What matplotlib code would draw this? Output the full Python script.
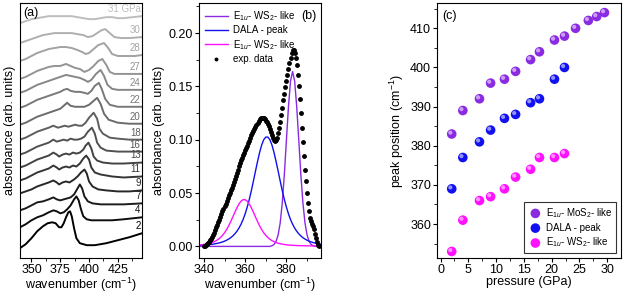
import numpy as np
import matplotlib
matplotlib.use("Agg")
from matplotlib import pyplot as plt
from matplotlib.transforms import offset_copy

plt.rcParams['font.family'] = ['Liberation Sans', 'DejaVu Sans']
plt.rcParams['font.size'] = 9
plt.rcParams['axes.linewidth'] = 0.8
plt.rcParams['mathtext.fontset'] = 'custom'
plt.rcParams['mathtext.rm'] = 'Liberation Sans'
plt.rcParams['mathtext.it'] = 'Liberation Sans:italic'

# ---------------- (a) spectra under pressure (stacked, arb. units) ----------------
labels_a = ['2', '4', '7', '9', '11', '13', '16', '18', '20', '22', '24', '27', '28', '30', '31 GPa']
spectra = [
    ([340, 345, 350, 355, 360, 364, 368, 371, 374, 376, 378, 380, 382, 383.5, 385, 387, 389, 392, 398, 405, 415, 425, 435, 446],
     [10, 14, 20, 27, 32, 35, 36, 35, 31, 31, 35, 41, 46, 47, 42, 30, 20, 15, 13, 13, 15, 18, 21, 25]),
    ([340, 345, 350, 355, 360, 365, 369, 372, 375, 378, 381, 384, 387, 389, 391, 393, 395, 398, 402, 410, 420, 430, 446],
     [31, 34, 38, 41, 43, 46, 48, 47, 45, 46, 49, 53, 59, 62, 58, 49, 42, 39, 38, 38, 38, 39, 41]),
    ([340, 345, 350, 355, 360, 365, 369, 372, 375, 378, 381, 384, 387, 390, 392, 394, 396, 399, 403, 410, 420, 430, 446],
     [48, 50, 53, 56, 57, 59, 61, 59, 58, 59, 60, 61, 64, 70, 74, 70, 62, 57, 55, 54, 54, 54, 55]),
    ([340, 345, 350, 355, 360, 365, 369, 372, 374, 377, 380, 383, 387, 390, 393, 396, 398, 400, 403, 408, 415, 425, 435, 446],
     [65, 67, 69, 72, 74, 76, 78, 76, 74, 76, 77, 76, 79, 82, 86, 89, 85, 77, 72, 69, 68, 67, 67, 68]),
    ([340, 345, 350, 355, 360, 365, 369, 372, 374, 377, 380, 383, 386, 389, 392, 395, 397.5, 400, 402, 405, 410, 420, 430, 446],
     [78, 80, 83, 86, 88, 90, 93, 91, 89, 91, 92, 91, 93, 92, 95, 100, 103, 99, 91, 86, 84, 82, 81, 82]),
    ([340, 345, 350, 355, 360, 365, 369, 372, 374, 377, 380, 383, 386, 389, 392, 395, 397, 399.5, 402, 404, 407, 412, 420, 430, 446],
     [91, 93, 96, 99, 101, 103, 106, 104, 102, 104, 105, 104, 106, 105, 106, 109, 113, 116, 110, 102, 98, 96, 95, 95, 96]),
    ([340, 345, 350, 355, 360, 365, 369, 372, 375, 378, 381, 384, 387, 390, 393, 396, 399, 402.5, 405, 407, 410, 415, 425, 435, 446],
     [104, 106, 109, 112, 114, 116, 119, 117, 118, 119, 118, 120, 119, 119, 120, 122, 127, 131, 125, 116, 111, 108, 107, 107, 107]),
    ([340, 345, 350, 355, 360, 365, 369, 373, 376, 379, 382, 385, 388, 391, 394, 397, 400, 404, 407, 409, 412, 418, 425, 435, 446],
     [119, 121, 124, 127, 129, 131, 133, 131, 132, 133, 132, 133, 134, 133, 133, 136, 141, 146, 140, 130, 125, 121, 120, 119, 119]),
    ([340, 345, 350, 355, 360, 365, 370, 375, 378, 381, 384, 388, 392, 396, 400, 404, 407, 410, 413, 417, 425, 435, 446],
     [134, 136, 139, 142, 144, 146, 148, 150, 153, 156, 153, 152, 152, 152, 154, 158, 161, 155, 145, 139, 136, 135, 135]),
    ([340, 345, 350, 355, 360, 365, 370, 375, 378, 381, 384, 388, 392, 396, 399, 402, 405, 408.5, 411, 414, 418, 425, 435, 446],
     [151, 153, 156, 159, 161, 163, 165, 167, 169, 170, 168, 167, 167, 166, 165, 168, 173, 176, 170, 160, 154, 152, 152, 152]),
    ([340, 345, 350, 355, 360, 365, 370, 375, 380, 384, 388, 392, 396, 399, 402, 406, 410, 413, 416, 420, 425, 435, 446],
     [166, 168, 171, 174, 176, 178, 180, 182, 184, 183, 182, 181, 179, 177, 179, 185, 189, 183, 174, 170, 169, 169, 169]),
    ([340, 345, 350, 355, 360, 365, 370, 375, 380, 384, 388, 392, 396, 400, 404, 408, 411.5, 415, 418, 422, 430, 438, 446],
     [180, 182, 185, 188, 190, 192, 193, 193, 195, 193, 191, 190, 187, 189, 193, 198, 200, 194, 187, 185, 185, 185, 185]),
    ([340, 345, 350, 355, 360, 365, 370, 375, 380, 385, 390, 394, 397, 400, 404, 408, 413, 416, 420, 425, 432, 440, 446],
     [198, 200, 203, 206, 208, 210, 211, 212, 212, 211, 209, 207, 205, 206, 210, 214, 216, 212, 205, 203, 203, 203, 204]),
    ([340, 345, 350, 355, 360, 365, 370, 375, 380, 385, 390, 395, 399, 403, 407, 411, 414, 418, 422, 428, 435, 446],
     [216, 218, 220, 222, 224, 225, 226, 226, 226, 226, 225, 224, 222, 223, 226, 229, 230, 226, 222, 221, 221, 222]),
    ([340, 345, 350, 355, 360, 365, 370, 375, 380, 385, 390, 395, 400, 405, 410, 415, 420, 425, 430, 438, 446],
     [236, 238, 240, 241, 242, 243, 243, 243, 243, 243, 242, 241, 240, 240, 241, 242, 242, 241, 241, 242, 243]),
]

# ---------------- (b) fit of the 2 GPa spectrum ----------------
wn_exp = np.arange(340, 396.5, 0.5)
abs_exp = [0.000, 0.000, 0.001, 0.002, 0.003, 0.004, 0.006, 0.007, 0.009, 0.011,
           0.013, 0.015, 0.018, 0.020, 0.023, 0.025, 0.028, 0.030, 0.033, 0.035,
           0.038, 0.040, 0.043, 0.045, 0.048, 0.050, 0.053, 0.055, 0.058, 0.060,
           0.063, 0.066, 0.069, 0.072, 0.075, 0.078, 0.081, 0.083, 0.086, 0.088,
           0.090, 0.092, 0.094, 0.097, 0.099, 0.102, 0.104, 0.106, 0.108, 0.110,
           0.112, 0.114, 0.116, 0.118, 0.119, 0.120, 0.120, 0.120, 0.120, 0.119,
           0.118, 0.117, 0.115, 0.113, 0.110, 0.107, 0.104, 0.102, 0.100, 0.099,
           0.100, 0.102, 0.106, 0.111, 0.117, 0.123, 0.130, 0.137, 0.143, 0.149,
           0.155, 0.161, 0.166, 0.172, 0.177, 0.181, 0.184, 0.184, 0.181, 0.177,
           0.170, 0.161, 0.150, 0.138, 0.125, 0.111, 0.098, 0.085, 0.072, 0.061,
           0.050, 0.041, 0.033, 0.027, 0.024, 0.021, 0.019, 0.016, 0.012, 0.008,
           0.004, 0.001, 0.000]

wn_fit = np.arange(337, 398)
fit_mos2 = [0.0] * 36 + [0.0006, 0.0018, 0.0047, 0.0108, 0.0222, 0.0409, 0.0675, 0.0995,
                         0.131, 0.155, 0.164, 0.155, 0.131, 0.0995, 0.0675, 0.0409,
                         0.0222, 0.0108, 0.0047, 0.0018, 0.0006] + [0.0] * 4
fit_dala = [0.0009, 0.0010, 0.0011, 0.0012, 0.0014, 0.0016, 0.0018, 0.0020, 0.0023, 0.0027,
            0.0031, 0.0036, 0.0042, 0.0049, 0.0058, 0.0069, 0.0082, 0.0098, 0.0118, 0.0142,
            0.0172, 0.0208, 0.0252, 0.0305, 0.0368, 0.0440, 0.0522, 0.0612, 0.0705, 0.0795,
            0.0880, 0.0950, 0.1000, 0.1025, 0.1025, 0.1000, 0.0950, 0.0880, 0.0795, 0.0705,
            0.0612, 0.0522, 0.0440, 0.0368, 0.0305, 0.0252, 0.0208, 0.0172, 0.0142, 0.0118,
            0.0098, 0.0082, 0.0069, 0.0058, 0.0049, 0.0042, 0.0036, 0.0031, 0.0027, 0.0023,
            0.0020]
fit_ws2 = [0.0011, 0.0013, 0.0015, 0.0018, 0.0021, 0.0025, 0.0030, 0.0036, 0.0044, 0.0054,
           0.0067, 0.0083, 0.0103, 0.0128, 0.0158, 0.0193, 0.0233, 0.0276, 0.0320, 0.0362,
           0.0398, 0.0424, 0.0438, 0.0438, 0.0424, 0.0398, 0.0362, 0.0320, 0.0276, 0.0233,
           0.0193, 0.0158, 0.0128, 0.0103, 0.0083, 0.0067, 0.0054, 0.0044, 0.0036, 0.0030,
           0.0025, 0.0021, 0.0018, 0.0015, 0.0013, 0.0011, 0.0010, 0.0009, 0.0008, 0.0007,
           0.0007, 0.0006, 0.0006, 0.0005, 0.0005, 0.0005, 0.0004, 0.0004, 0.0004, 0.0004,
           0.0004]

# ---------------- (c) peak positions vs pressure ----------------
p_mos2 = [2, 4, 7, 9, 11.5, 13.5, 16.2, 17.8, 20.5, 22.3, 24.3, 26.6, 28.1, 29.5]
pos_mos2 = [383, 389, 392, 396, 397, 399, 402, 404, 407, 408, 410, 412, 413, 414]
p_dala = [2, 4, 7, 9, 11.5, 13.5, 16.2, 17.8, 20.5, 22.3]
pos_dala = [369, 377, 381, 384, 387, 388, 391, 392, 397, 400]
p_ws2 = [2, 4, 7, 9, 11.5, 13.5, 16.2, 17.8, 20.5, 22.3]
pos_ws2 = [353, 361, 366, 367, 369, 372, 374, 377, 377, 378]

c_purple = '#8a2be2'
c_blue = '#1010f0'
c_magenta = '#ff10ff'

fig = plt.figure(figsize=(6.23, 2.93), dpi=100)
ax1 = fig.add_axes([0.032, 0.119, 0.196, 0.870])
ax2 = fig.add_axes([0.319, 0.119, 0.197, 0.870])
ax3 = fig.add_axes([0.701, 0.119, 0.296, 0.870])

# (a)
n = len(spectra)
for i, (wn, val) in enumerate(spectra):
    g = 0.74 * i / (n - 1)
    col = (g, g, g)
    ax1.plot(wn, val, color=col, lw=1.4)
    ax1.annotate(labels_a[i], (wn[-1], val[-1]), xytext=(-1, 1.5), textcoords='offset points',
                 ha='right', va='bottom', fontsize=7, color=col)
ax1.set_xlim(340, 446)
ax1.set_ylim(0, 256)
ax1.set_yticks([])
ax1.set_xticks([350, 375, 400, 425])
ax1.set_xticks([362.5, 387.5, 412.5, 437.5], minor=True)
ax1.set_xlabel('wavenumber (cm$^{-1}$)', labelpad=0)
ax1.set_ylabel('absorbance (arb. units)', labelpad=3)
ax1.text(0.03, 0.985, '(a)', transform=ax1.transAxes, ha='left', va='top', fontsize=9)

# (b)
ax2.plot(wn_fit, fit_mos2, color=c_purple, lw=1.0, label='E$_{1u}$- WS$_2$- like')
ax2.plot(wn_fit, fit_dala, color=c_blue, lw=1.0, label='DALA - peak')
ax2.plot(wn_fit, fit_ws2, color=c_magenta, lw=1.0, label='E$_{1u}$- WS$_2$- like')
ax2.plot(wn_exp, abs_exp, 'o', color='black', ms=3.5, mew=0, label='exp. data')
ax2.set_xlim(337.5, 397)
ax2.set_ylim(-0.011, 0.228)
ax2.set_xticks([340, 360, 380])
ax2.set_xticks([350, 370, 390], minor=True)
ax2.set_yticks([0.0, 0.05, 0.10, 0.15, 0.20])
ax2.set_yticks([0.025, 0.075, 0.125, 0.175, 0.225], minor=True)
ax2.yaxis.set_major_formatter(matplotlib.ticker.FormatStrFormatter('%.2f'))
ax2.set_xlabel('wavenumber (cm$^{-1}$)', labelpad=0)
ax2.set_ylabel('absorbance (arb. units)', labelpad=3)
ax2.legend(loc='upper left', frameon=False, fontsize=7, handlelength=2.4,
           handletextpad=0.5, labelspacing=0.25, borderaxespad=0.2, markerscale=0.8)
ax2.text(0.96, 0.975, '(b)', transform=ax2.transAxes, ha='right', va='top', fontsize=9)

# (c)
hl = offset_copy(ax3.transData, fig=fig, x=-1.0, y=1.0, units='points')
for p, pos, col, lab in [(p_mos2, pos_mos2, c_purple, 'E$_{1u}$- MoS$_2$- like'),
                         (p_dala, pos_dala, c_blue, 'DALA - peak'),
                         (p_ws2, pos_ws2, c_magenta, 'E$_{1u}$- WS$_2$- like')]:
    ax3.scatter(p, pos, s=48, color=col, edgecolors='none', label=lab, zorder=3)
    ax3.scatter(p, pos, s=9, color='white', alpha=0.55, edgecolors='none',
                transform=hl, zorder=4)
ax3.set_xlim(-0.7, 32.5)
ax3.set_ylim(351.3, 416.4)
ax3.set_xticks([0, 5, 10, 15, 20, 25, 30])
ax3.set_xticks([2.5, 7.5, 12.5, 17.5, 22.5, 27.5], minor=True)
ax3.set_yticks([360, 370, 380, 390, 400, 410])
ax3.set_yticks([355, 365, 375, 385, 395, 405, 415], minor=True)
ax3.set_xlabel('pressure (GPa)', labelpad=0)
ax3.set_ylabel('peak position (cm$^{-1}$)', labelpad=3)
leg = ax3.legend(loc='lower right', fontsize=7, frameon=True, fancybox=False,
                 edgecolor='black', handletextpad=0.3, labelspacing=0.3,
                 borderaxespad=0.5, handlelength=1.5)
leg.get_frame().set_linewidth(0.8)
ax3.text(0.03, 0.975, '(c)', transform=ax3.transAxes, ha='left', va='top', fontsize=9)

for ax in (ax1, ax2, ax3):
    ax.tick_params(which='major', length=3, width=0.8, direction='out', labelsize=9, pad=1)
    ax.tick_params(which='minor', length=2, width=0.6, direction='out')

fig.savefig('out.png', dpi=100)
